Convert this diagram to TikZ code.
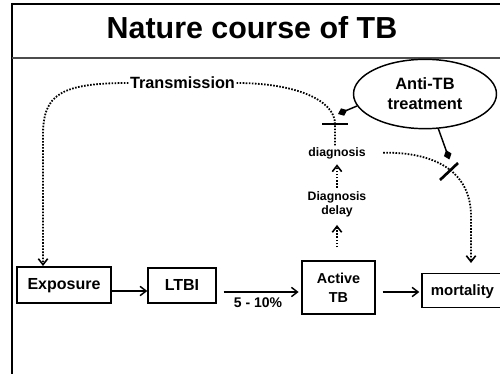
\documentclass[tikz,border=0pt]{standalone}
\usepackage{fontspec}
\setmainfont{Liberation Sans}
\usetikzlibrary{arrows.meta,shapes.geometric,calc}
\begin{document}
\begin{tikzpicture}[x=0.75pt,y=-0.75pt,
  box/.style={draw,line width=1.1pt,inner sep=0pt,align=center,font=\bfseries\fontsize{12}{14}\selectfont},
  oneline/.style={text height=0.72em,text depth=0pt},
  dotline/.style={line width=1.35pt,dash pattern=on 1.2pt off 1.1pt},
  solidarrow/.style={line width=1.1pt,-{Straight Barb[length=4.5pt,width=7pt,line width=1.1pt]}},
  dotarrow/.style={dotline,-{Straight Barb[length=4.5pt,width=7pt,line width=1.2pt]}},
  blockbar/.style={line width=2pt},
  diamondline/.style={line width=1.1pt,-{Diamond[length=7.5pt,width=6pt]}},
  smalltext/.style={font=\bfseries\fontsize{9.2}{10.5}\selectfont,align=center,inner sep=1pt},
  midtext/.style={font=\bfseries\fontsize{12.2}{14}\selectfont,inner sep=1pt}
]
\useasboundingbox (0,0) rectangle (500,374);
% frame
\draw[line width=2.2pt] (12,3) -- (12,380);
\draw[line width=1.5pt] (11,4) -- (510,4);
\draw[line width=1pt,black!70] (12,58) -- (510,58);
\node[font=\bfseries\fontsize{22.8}{26}\selectfont,anchor=base,inner sep=0pt] (title) at (252,39) {Nature course of TB};

% boxes
\node[box,oneline,minimum width=70.5pt,minimum height=27pt] (expo) at (64,285) {Exposure};
\node[box,oneline,minimum width=51pt,minimum height=26.25pt] (ltbi) at (182,285.5) {LTBI};
\node[box,minimum width=54.75pt,minimum height=39.75pt,font=\bfseries\fontsize{10.8}{14.25}\selectfont] (active) at (338.5,287.5) {Active\\TB};
\node[box,oneline,minimum width=60.75pt,minimum height=25.5pt,font=\bfseries\fontsize{11.2}{13}\selectfont] (mort) at (462.5,290.5) {mortality};

% ellipse
\node[ellipse,draw,line width=1.1pt,minimum width=107.25pt,minimum height=52pt,inner sep=0pt,align=center,font=\bfseries\fontsize{12.3}{15}\selectfont] (ant) at (425,94) {Anti-TB\\treatment};

% texts
\node[midtext] (trans) at (182.5,83) {Transmission};
\node[smalltext] (diag) at (337,153) {diagnosis};
\node[smalltext] (delay) at (337,204) {Diagnosis\\delay};
\node[font=\bfseries\fontsize{10.5}{12}\selectfont,inner sep=0pt] (pct) at (258,302.5) {5 - 10\%};

% solid arrows
\draw[solidarrow] ($(expo.east)+(0,6)$) -- ($(ltbi.west)+(0,5.5)$);
\draw[solidarrow,shorten <=5.25pt,shorten >=2pt] ($(ltbi.east)+(0,6.5)$) -- ($(active.west)+(0,4.5)$);
\draw[solidarrow,shorten <=5.25pt,shorten >=1.5pt] ($(active.east)+(0,4.5)$) -- ($(mort.west)+(0,1.5)$);

% dotted arrows
\draw[dotarrow,shorten <=9.75pt,shorten >=5pt] (active.north -| delay.south) -- (delay.south);
\draw[dotarrow,shorten <=1.5pt,shorten >=3pt] (delay.north) -- (diag.south);

% transmission paths
\coordinate (bar1) at (335,124);
\coordinate (expoIn) at (43,266);
\draw[dotline] (trans.east) .. controls (295,83) and (335,100) .. (bar1) -- (bar1 |- diag.north);
\draw[dotarrow] (trans.west) .. controls (60,83) and (43,95) .. (43,135) -- (expoIn);
\draw[blockbar] ($(bar1)+(-13,0)$) -- ($(bar1)+(13,0)$);

% diagnosis to mortality
\coordinate (mortIn) at (471,263);
\draw[dotarrow,shorten <=12pt] (diag.east) .. controls (425,152) and (470,165) .. (471,215) -- (mortIn);
\draw[blockbar] (440,180) -- (458,163);

% treatment inhibitions
\coordinate (d1) at (338,114);
\coordinate (d2) at (449.4,159.5);
\draw[diamondline] (ant.190) -- (d1);
\draw[diamondline] (ant.291) -- (d2);
\end{tikzpicture}
\end{document}
